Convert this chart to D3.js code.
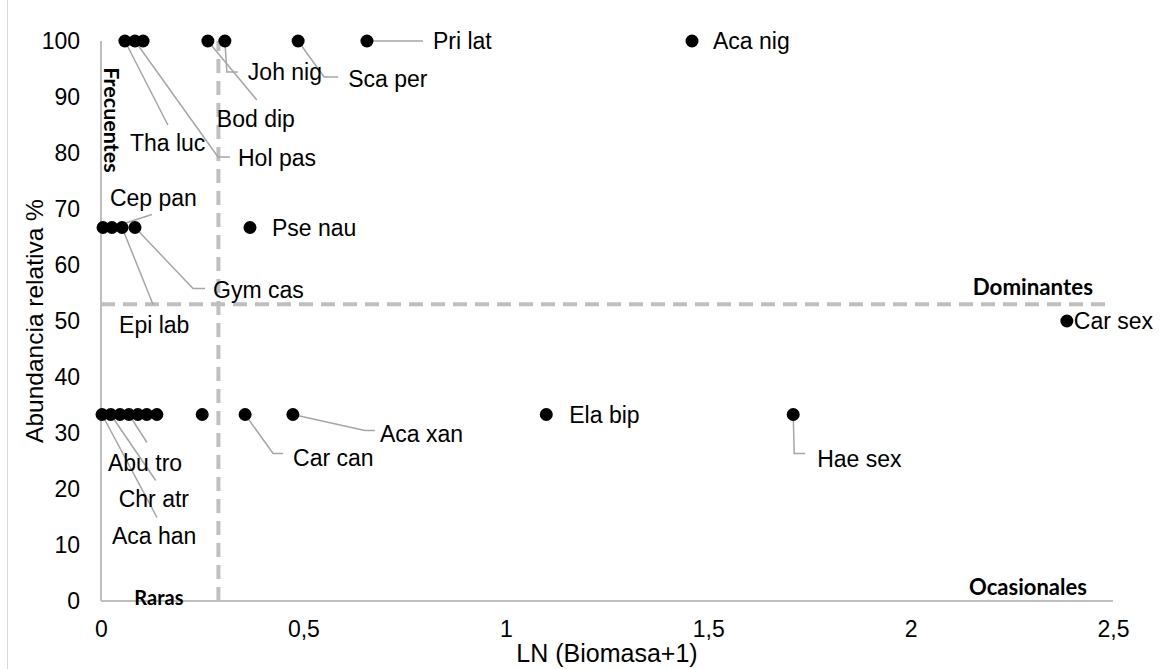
<!DOCTYPE html>
<html><head><meta charset="utf-8">
<script src="https://cdn.jsdelivr.net/npm/d3@7"></script>
<style>body{margin:0;background:#fff;overflow:hidden}</style>
</head><body>
<svg id="c" width="1161" height="669"></svg>
<script>
// ---- data ----
const species = ["Tha luc","Hol pas","","Bod dip","Joh nig","Sca per","Pri lat","Aca nig",
  "","Cep pan","Epi lab","Gym cas","Pse nau",
  "Aca han","Chr atr","","Abu tro","","","","","Car can","Aca xan","Ela bip","Hae sex",
  "Car sex"];
const biomass = [0.059,0.084,0.104,0.264,0.306,0.487,0.657,1.46,
  0.005,0.027,0.052,0.084,0.368,
  0.0025,0.024,0.047,0.069,0.091,0.113,0.138,0.25,0.356,0.474,1.10,1.71,
  2.386];
const abundance = [100,100,100,100,100,100,100,100,
  66.7,66.7,66.7,66.7,66.7,
  33.3,33.3,33.3,33.3,33.3,33.3,33.3,33.3,33.3,33.3,33.3,33.3,
  50];
const xTicks = [0,0.5,1,1.5,2,2.5];
const xTickLabels = ["0","0,5","1","1,5","2","2,5"];
const yTicks = [0,10,20,30,40,50,60,70,80,90,100];
const yTickLabels = ["0","10","20","30","40","50","60","70","80","90","100"];
const biomassThreshold = 0.29;
const abundanceThreshold = 53;
const xTitle = "LN (Biomasa+1)";
const yTitle = "Abundancia relativa %";
const zoneNames = ["Frecuentes","Dominantes","Raras","Ocasionales"];

// ---- label layout (pixel offsets from each point) ----
const labelLayout = {
  "Tha luc": {t:[5,102], l:[[43,84]]},
  "Hol pas": {t:[103,117], l:[[83,116],[95,116]]},
  "Bod dip": {t:[9,78], l:[[49,59]]},
  "Joh nig": {t:[23,31], l:[[2,31],[13,31]]},
  "Sca per": {t:[50,38], l:[[26,36],[40,36]]},
  "Pri lat": {t:[66,0], l:[[56,0]]},
  "Aca nig": {t:[21,0], l:[]},
  "Cep pan": {t:[-2,-30], l:[[40,-13]]},
  "Epi lab": {t:[-3,97], l:[[31,77]]},
  "Gym cas": {t:[78,62], l:[[58,61],[70,61]]},
  "Pse nau": {t:[22,0], l:[]},
  "Aca han": {t:[10,121], l:[[55,103]]},
  "Chr atr": {t:[8,84], l:[[45,66]]},
  "Abu tro": {t:[-21,48], l:[[18,28]]},
  "Car can": {t:[48,43], l:[[28,39],[38,39]]},
  "Aca xan": {t:[87,19], l:[[72,16],[82,16]]},
  "Ela bip": {t:[23,0], l:[]},
  "Hae sex": {t:[24,44], l:[[1,39],[12,39]]},
  "Car sex": {t:[7,0], l:[]}
};

const svg = d3.select("#c");
const W = 1161, H = 669;
const m = {l:101, r:48, t:41, b:68};
const x = d3.scaleLinear().domain([0,2.5]).range([m.l, W-m.r]);
const y = d3.scaleLinear().domain([0,100]).range([H-m.b, m.t]);
const font = "'Liberation Sans', Arial, sans-serif";

// frame (left edge visible)
svg.append("line").attr("x1",7.5).attr("x2",7.5).attr("y1",0).attr("y2",H)
  .attr("stroke","#d9d9d9").attr("stroke-width",1);

// axes lines
const axisCol = "#bfbfbf";
svg.append("line").attr("x1",x(0)).attr("x2",x(2.5)).attr("y1",y(0)).attr("y2",y(0))
  .attr("stroke",axisCol).attr("stroke-width",2);
svg.append("line").attr("x1",x(0)).attr("x2",x(0)).attr("y1",y(0)).attr("y2",y(100))
  .attr("stroke",axisCol).attr("stroke-width",2);

// tick labels via axes
const xAxis = d3.axisBottom(x).tickValues(xTicks).tickFormat((d,i)=>xTickLabels[i]).tickSize(0).tickPadding(20);
const gx = svg.append("g").attr("transform",`translate(0,${y(0)})`).call(xAxis);
const yAxis = d3.axisLeft(y).tickValues(yTicks).tickFormat((d,i)=>yTickLabels[i]).tickSize(0).tickPadding(21);
const gy = svg.append("g").attr("transform",`translate(${x(0)},0)`).call(yAxis);
[gx,gy].forEach(g=>{
  g.select(".domain").remove();
  g.selectAll("text").attr("font-family",font).attr("font-size",23).attr("fill","#000");
});

// threshold dashed lines
const dashCol = "#bfbfbf";
svg.append("line").attr("x1",x(biomassThreshold)).attr("x2",x(biomassThreshold))
  .attr("y1",y(0)).attr("y2",y(100))
  .attr("stroke",dashCol).attr("stroke-width",4).attr("stroke-dasharray","14,8");
svg.append("line").attr("x1",x(0)).attr("x2",x(2.5))
  .attr("y1",y(abundanceThreshold)).attr("y2",y(abundanceThreshold))
  .attr("stroke",dashCol).attr("stroke-width",4).attr("stroke-dasharray","14,8");

// data
const pts = species.map((s,i)=>({name:s, bx:biomass[i], ab:abundance[i]}));

// leader lines
svg.append("g").selectAll("path").data(pts.filter(p=>p.name && labelLayout[p.name].l.length))
  .join("path")
  .attr("d",p=>{
    const px=x(p.bx), py=y(p.ab);
    return "M"+px+","+py+labelLayout[p.name].l.map(o=>"L"+(px+o[0])+","+(py+o[1])).join("");
  })
  .attr("fill","none").attr("stroke","#a6a6a6").attr("stroke-width",1.5);

// dots
svg.append("g").selectAll("circle").data(pts).join("circle")
  .attr("cx",p=>x(p.bx)).attr("cy",p=>y(p.ab)).attr("r",6.5).attr("fill","#000");

// labels
svg.append("g").selectAll("text").data(pts.filter(p=>p.name)).join("text")
  .attr("x",p=>x(p.bx)+labelLayout[p.name].t[0])
  .attr("y",p=>y(p.ab)+labelLayout[p.name].t[1])
  .attr("dy","0.35em")
  .attr("font-family",font).attr("font-size",23).attr("fill","#000")
  .text(p=>p.name);

// axis titles
svg.append("text").attr("x",(x(0)+x(2.5))/2).attr("y",H-7).attr("text-anchor","middle")
  .attr("font-family",font).attr("font-size",25).attr("fill","#000").text(xTitle);
svg.append("text").attr("transform",`translate(43,${(y(0)+y(100))/2}) rotate(-90)`)
  .attr("text-anchor","middle").attr("font-family",font).attr("font-size",24.5).attr("fill","#000").text(yTitle);

// zone labels
const zf = "Lato, 'Open Sans', sans-serif";
const zone = (t,tx,ty,rot,fs)=>svg.append("text")
  .attr("transform",`translate(${tx},${ty})`+(rot?` rotate(${rot})`:""))
  .attr("text-anchor","middle").attr("dy","0.35em")
  .attr("font-family",zf).attr("font-weight","bold").attr("font-size",fs).attr("fill","#000").text(t);
zone(zoneNames[0], x(0)+11, y(85.9), 90, 21.5);
zone(zoneNames[1], x(2.302), y(56.1), 0, 22.3);
zone(zoneNames[2], x(0.143), y(0.5), 0, 20);
zone(zoneNames[3], x(2.29), y(2.5), 0, 22);
</script>
</body></html>
